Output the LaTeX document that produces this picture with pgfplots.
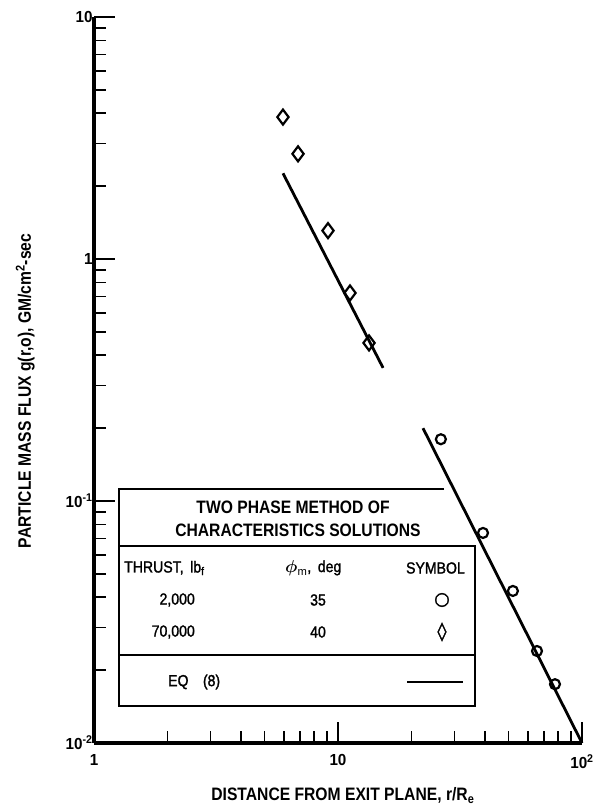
\documentclass[border=0pt]{standalone}
\usepackage{amsmath}
\usepackage{fontspec}
\setmainfont{Liberation Sans}
\newfontfamily\condfont[FakeStretch=0.87]{Liberation Sans}
\newfontfamily\tickfam[FakeStretch=0.95]{Liberation Sans}
\newfontfamily\tabfont[FakeStretch=0.88, FakeBold=1.5]{Liberation Sans}
\newfontfamily\symfont[FakeBold=2]{DejaVu Sans}
\usepackage{pgfplots}
\pgfplotsset{compat=1.18}
\newcommand\tickfont{\fontsize{16}{18}\selectfont\tickfam\bfseries}
\newcommand\labfont{\fontsize{18}{20}\selectfont\condfont\bfseries}
\newcommand\titfont{\fontsize{18}{20}\selectfont\condfont\bfseries}
\newcommand\legfont{\fontsize{16}{18}\selectfont\tabfont}
\begin{document}
\begin{tikzpicture}
\useasboundingbox (-94pt,-63pt) rectangle (512pt,743pt);
\begin{axis}[
  at={(0pt,0pt)}, anchor=south west,
  scale only axis, width=488pt, height=726pt,
  xmode=log, ymode=log,
  xmin=1, xmax=100, ymin=0.01, ymax=10,
  axis x line=bottom, axis y line=left,
  axis line style={-, line width=4pt},
  xtick={1,10,100}, xticklabels={1,10,10\textsuperscript{2}},
  ytick={0.01,0.1,1,10}, yticklabels={10\textsuperscript{-2},10\textsuperscript{-1},1,10},
  minor xtick={2,3,4,5,6,7,8,9,20,30,40,50,60,70,80,90},
  minor ytick={0.02,0.03,0.04,0.05,0.06,0.07,0.08,0.09,0.2,0.3,0.4,0.5,0.6,0.7,0.8,0.9,2,3,4,5,6,7,8,9},
  tick align=inside,
  major tick length=21pt, minor tick length=12pt,
  every tick/.style={black, line width=1.8pt},
  tick label style={font=\tickfont},
  xticklabel style={yshift=-8pt},
  yticklabel style={xshift=2pt},
  xlabel={DISTANCE FROM EXIT PLANE, r/R\textsubscript{e}},
  ylabel={PARTICLE MASS FLUX g(r,o), GM/cm\textsuperscript{2}-sec},
  label style={font=\labfont},
  xlabel style={at={(axis description cs:0.51,-0.072)}, anchor=center},
  ylabel style={at={(axis description cs:-0.141,0.485)}, anchor=center},
  clip=false,
]
\addplot[black, line width=2.8pt] coordinates {(5.95,2.26)(15.3,0.355)};
\addplot[black, line width=2.8pt] coordinates {(22.3,0.2)(100,0.01)};
\addplot[only marks, mark=diamond, mark size=7.5pt, mark options={line width=2.2pt, draw=black, fill=white}] coordinates {(5.95,3.86)(6.86,2.72)(9.10,1.31)(11.2,0.724)(13.4,0.450)};
\addplot[only marks, mark=o, mark size=5pt, mark options={line width=2.2pt, draw=black, fill=white}] coordinates {(26.4,0.180)(39.3,0.0738)(52.1,0.0425)(65.4,0.0240)(77.5,0.0175)};
\end{axis}
\draw[line width=2.5pt, line join=miter] (350pt,254pt) -- (25pt,254pt) -- (25pt,37pt) -- (381pt,37pt) -- (381pt,197pt) -- (25pt,197pt);
\draw[line width=2.5pt] (25pt,88pt) -- (381pt,88pt);
\node[font=\titfont] at (199pt,236pt) {TWO PHASE METHOD OF};
\node[font=\titfont] at (204pt,213pt) {CHARACTERISTICS SOLUTIONS};
\node[font=\legfont, anchor=west, inner sep=0pt] at (30pt,175pt) {THRUST,\, lb\textsubscript{f}};
\node[font=\legfont, anchor=west, inner sep=0pt] at (191pt,175pt) {$\boldsymbol{\phi}_{\mathrm{m}}$,\, deg};
\node[font=\legfont, anchor=east, inner sep=0pt] at (371pt,175pt) {SYMBOL};
\node[font=\legfont, anchor=east, inner sep=0pt] at (101pt,143pt) {2,000};
\node[font=\legfont] at (224pt,143pt) {35};
\node[font=\fontsize{18}{20}\selectfont\symfont] at (348pt,143pt) {○};
\node[font=\legfont, anchor=east, inner sep=0pt] at (101pt,111pt) {70,000};
\node[font=\legfont] at (224pt,111pt) {40};
\node[font=\fontsize{18}{20}\selectfont\symfont] at (348pt,111pt) {◊};
\node[font=\legfont, anchor=west, inner sep=0pt] at (74pt,61pt) {EQ\hspace{0.9em}(8)};
\draw[line width=2.5pt] (313pt,61pt) -- (369pt,61pt);
\end{tikzpicture}
\end{document}
